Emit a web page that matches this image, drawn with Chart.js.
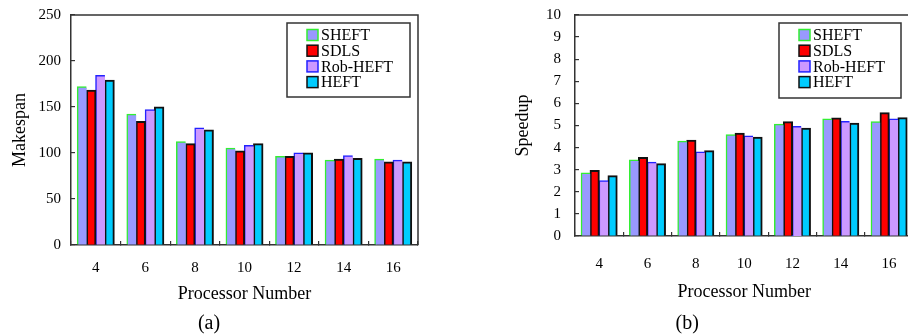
<!DOCTYPE html>
<html>
<head>
<meta charset="utf-8">
<script src="https://cdn.jsdelivr.net/npm/chart.js@4.4.0/dist/chart.umd.min.js"></script>
<style>
  html, body { margin: 0; padding: 0; overflow: hidden; background: #fff; width: 908px; height: 336px; }
  .wrap { position: absolute; top: 0; width: 460px; height: 336px; }
</style>
</head>
<body>
<div class="wrap" style="left:0"><canvas id="chartA"></canvas></div>
<div class="wrap" style="left:460px"><canvas id="chartB"></canvas></div>
<script>
// processor counts (x axis)
const processors = ['4', '6', '8', '10', '12', '14', '16'];
const seriesNames = ['SHEFT', 'SDLS', 'Rob-HEFT', 'HEFT'];

// (a) makespan
const makespanSHEFT = [172, 142, 112, 105, 96, 92, 93];
const makespanSDLS = [168, 134, 110, 102, 96, 93, 90];
const makespanRob = [184, 147, 127, 108, 100, 97, 92];
const makespanHEFT = [179, 150, 125, 110, 100, 94, 90];

// (b) speedup
const speedupSHEFT = [2.85, 3.44, 4.28, 4.58, 5.05, 5.29, 5.16];
const speedupSDLS = [2.96, 3.55, 4.33, 4.64, 5.16, 5.34, 5.57];
const speedupRob = [2.5, 3.33, 3.8, 4.52, 4.95, 5.18, 5.29];
const speedupHEFT = [2.72, 3.27, 3.85, 4.46, 4.87, 5.1, 5.35];

const fills = ['#9999ff', '#ff0000', '#cc99ff', '#00ccff'];
const edges = ['#33ee33', '#111111', '#2222ff', '#111111'];
const serif = '"Liberation Serif", "Times New Roman", serif';

function makeDatasets(values) {
    return values.map((v, i) => ({
        label: seriesNames[i],
        data: v,
        backgroundColor: fills[i],
        borderColor: edges[i],
        borderSkipped: false,
        // bars touch each other, so the right edge only shows on red and cyan
        borderWidth: (i % 2 === 0) ? {top: 1.5, left: 1.5, right: 0, bottom: 0}
                                   : {top: 2, left: 2, right: 2, bottom: 0},
        inflateAmount: 0.6,
        categoryPercentage: 0.74,
        barPercentage: 1.0
    }));
}

// framed legend inside the plot
const boxLegend = {
    id: 'boxLegend',
    afterDraw(chart, args, opts) {
        const ctx = chart.ctx;
        ctx.save();
        ctx.strokeStyle = '#333';
        ctx.lineWidth = 1.5;
        ctx.strokeRect(opts.x, opts.y, opts.w, opts.h);
        ctx.font = '16px ' + serif;
        ctx.textBaseline = 'middle';
        chart.data.datasets.forEach((ds, i) => {
            const cy = opts.y + 12 + i * 15.7;
            ctx.fillStyle = ds.backgroundColor;
            ctx.fillRect(opts.x + 20, cy - 5.5, 11, 11);
            ctx.strokeStyle = ds.borderColor;
            ctx.lineWidth = 1.5;
            ctx.strokeRect(opts.x + 20, cy - 5.5, 11, 11);
            ctx.fillStyle = '#000';
            ctx.fillText(ds.label, opts.x + 34, cy + 1);
        });
        ctx.restore();
    }
};

// top and right edges of the plot box
const plotFrame = {
    id: 'plotFrame',
    afterDraw(chart) {
        const {ctx, chartArea: a} = chart;
        ctx.save();
        ctx.strokeStyle = '#333';
        ctx.lineWidth = 1.5;
        ctx.beginPath();
        ctx.moveTo(a.left, a.top);
        ctx.lineTo(a.right, a.top);
        ctx.lineTo(a.right, a.bottom);
        ctx.stroke();
        ctx.restore();
    }
};

function makeConfig(opt) {
    return {
        type: 'bar',
        data: {labels: processors, datasets: makeDatasets(opt.values)},
        plugins: [boxLegend, plotFrame],
        options: {
            responsive: true,
            maintainAspectRatio: false,
            animation: false,
            devicePixelRatio: 1,
            layout: {padding: {top: 15, right: opt.padRight, left: 0, bottom: 0}},
            plugins: {
                legend: {display: false},
                tooltip: {enabled: false},
                title: {
                    display: true,
                    text: opt.caption,
                    position: 'bottom',
                    color: '#000',
                    font: {family: serif, size: 20, weight: 'normal'},
                    padding: {top: 2, bottom: 0}
                },
                boxLegend: opt.legend
            },
            scales: {
                x: {
                    afterFit: s => { s.height = opt.xHeight; },
                    grid: {drawOnChartArea: false, tickLength: -4, color: '#333', lineWidth: 1.2},
                    border: {display: true, color: '#333', width: 1.5},
                    ticks: {color: '#000', font: {family: serif, size: 15}, padding: opt.xTickPad},
                    title: {
                        display: true,
                        text: 'Processor Number',
                        color: '#000',
                        font: {family: serif, size: 18},
                        padding: {top: 0, bottom: opt.xTitlePad}
                    }
                },
                y: {
                    min: 0,
                    max: opt.yMax,
                    // fixed width; drop the label overhang so the plot top stays put
                    afterFit: s => { s.width = opt.yWidth; s.paddingTop = 0; s.paddingBottom = 0; },
                    grid: {drawOnChartArea: false, tickLength: -4, color: '#333', lineWidth: 1.2},
                    border: {display: true, color: '#333', width: 1.5},
                    ticks: {stepSize: opt.yStep, autoSkip: false, color: '#000', font: {family: serif, size: 15}, padding: opt.yTickPad},
                    title: {
                        display: true,
                        text: opt.yTitle,
                        color: '#000',
                        font: {family: serif, size: 18},
                        padding: {top: opt.yTitlePad, bottom: 0}
                    }
                }
            }
        }
    };
}

new Chart(document.getElementById('chartA').getContext('2d'), makeConfig({
    values: [makespanSHEFT, makespanSDLS, makespanRob, makespanHEFT],
    caption: '(a)',
    yTitle: 'Makespan',
    yMax: 250, yStep: 50,
    padRight: 42, yWidth: 71, xHeight: 65,
    xTickPad: 18, xTitlePad: 5, yTickPad: 14, yTitlePad: 9,
    legend: {x: 287, y: 23, w: 123, h: 74}
}));

new Chart(document.getElementById('chartB').getContext('2d'), makeConfig({
    values: [speedupSHEFT, speedupSDLS, speedupRob, speedupHEFT],
    caption: '(b)',
    yTitle: 'Speedup',
    yMax: 10, yStep: 1,
    padRight: 5.5, yWidth: 115, xHeight: 74,
    xTickPad: 23, xTitlePad: 7, yTickPad: 18, yTitlePad: 52.7,
    legend: {x: 319, y: 23, w: 122, h: 75}
}));
</script>
</body>
</html>
